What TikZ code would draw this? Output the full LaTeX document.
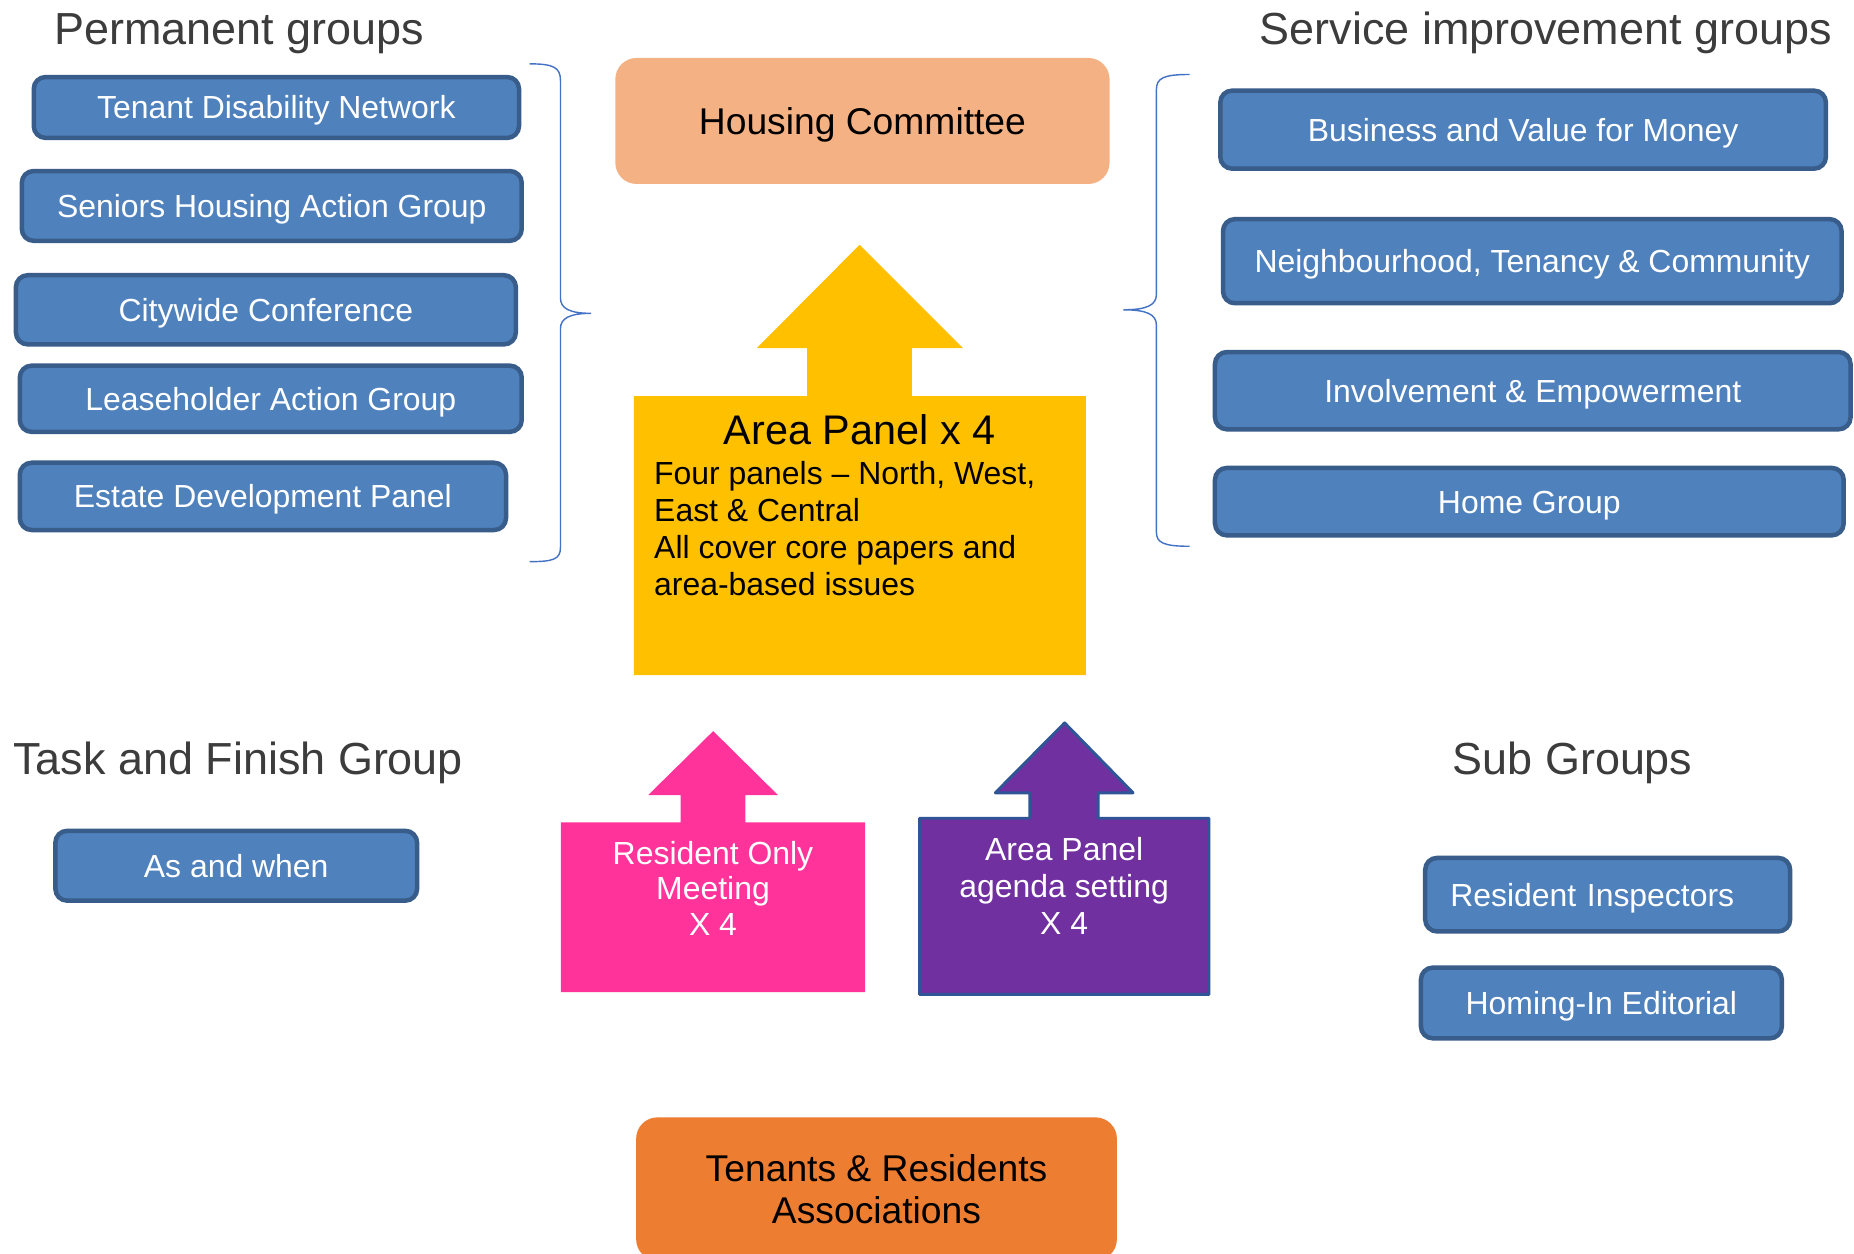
\documentclass[tikz,border=0pt]{standalone}
\usepackage{fontspec}
\setmainfont{Liberation Sans}
\definecolor{boxblue}{HTML}{4F81BD}
\definecolor{boxedge}{HTML}{385D8A}
\definecolor{bracecol}{HTML}{4472C4}
\definecolor{hcfill}{HTML}{F4B183}
\definecolor{trafill}{HTML}{ED7D31}
\definecolor{apfill}{HTML}{FFC000}
\definecolor{pinkfill}{HTML}{FF3399}
\definecolor{purplefill}{HTML}{7030A0}
\definecolor{purpleedge}{HTML}{2F5597}
\definecolor{titlegray}{HTML}{3C3C3C}
\tikzset{
  bluebox/.style={draw=boxedge, fill=boxblue, line width=1.9pt, rounded corners=5pt,
    inner sep=0pt, text=white, font=\fontsize{13.5pt}{16pt}\selectfont,
    text height=9.67pt, text depth=0pt},
  grouptitle/.style={anchor=base, inner sep=0pt, text=titlegray,
    font=\fontsize{19pt}{22pt}\selectfont},
  bigbox/.style={inner sep=0pt, rounded corners=9pt, text=black,
    font=\fontsize{15.75pt}{17.6pt}\selectfont},
  bracket/.style={draw=bracecol, line width=0.6pt},
  shapetext/.style={inner sep=0pt, text=white, align=center},
}
\begin{document}
\begin{tikzpicture}[x=0.5pt,y=-0.5pt]
\clip (0,0) rectangle (1568,1060);
\fill[white] (0,0) rectangle (1568,1060);

% titles
\node[grouptitle] (tperm) at (202.3,37.8) {Permanent groups};
\node[grouptitle] (tserv) at (1307.3,37.8) {Service improvement groups};
\node[grouptitle] (ttask) at (201.5,654.6) {Task and Finish Group};
\node[grouptitle] (tsub) at (1330,654.6) {Sub Groups};

% permanent groups
\node[bluebox, minimum width=205.2pt, minimum height=25.75pt] (tdn) at (233.75,90.9) {Tenant Disability Network};
\node[bluebox, minimum width=211.4pt, minimum height=29.5pt] (shag) at (229.85,174.15) {Seniors Housing Action Group};
\node[bluebox, minimum width=211.4pt, minimum height=29.25pt] (cwc) at (224.85,262) {Citywide Conference};
\node[bluebox, minimum width=212.25pt, minimum height=28pt] (lag) at (229,337.25) {Leaseholder Action Group};
\node[bluebox, minimum width=205.6pt, minimum height=28.45pt] (edp) at (222.35,419.8) {Estate Development Panel};

% service improvement groups
\node[bluebox, minimum width=256.1pt, minimum height=33pt] (bvm) at (1288.15,109.65) {Business and Value for Money};
\node[bluebox, minimum width=261.55pt, minimum height=35.55pt] (ntc) at (1295.9,220.9) {Neighbourhood, Tenancy \& Community};
\node[bluebox, minimum width=268.75pt, minimum height=32.65pt] (ie) at (1296.3,330.4) {Involvement \& Empowerment};
\node[bluebox, minimum width=265.85pt, minimum height=28.5pt] (hg) at (1293.4,424.25) {Home Group};

% task and finish
\node[bluebox, minimum width=152.95pt, minimum height=29.55pt] (aw) at (199.8,732.2) {As and when};

% sub groups
\node[bluebox, minimum width=154.3pt, minimum height=31.1pt, text width=133.1pt, align=left] (ri) at (1359.65,756.65) {Resident Inspectors};
\node[bluebox, minimum width=152.6pt, minimum height=29.9pt] (hie) at (1354.35,848.25) {Homing-In Editorial};

% braces
\draw[bracket] (448,54) .. controls (468,54) and (474,57) .. (474,68) -- (474,252)
  .. controls (474,261) and (482,265) .. (500,265)
  .. controls (482,265) and (474,269) .. (474,278) -- (474,463)
  .. controls (474,473) and (468,475) .. (448,475);
\draw[bracket] (1006,63) .. controls (984,63) and (978,66) .. (978,76) -- (978,249)
  .. controls (978,258) and (970,262) .. (950,262)
  .. controls (970,262) and (978,266) .. (978,275) -- (978,450)
  .. controls (978,459) and (984,462) .. (1006,462);

% housing committee
\node[bigbox, fill=hcfill, minimum width=209pt, minimum height=53.3pt,
  text height=11.28pt, text depth=0pt] (hc) at (729.4,102.3) {Housing Committee};

% area panel arrow
\fill[apfill] (536,571) -- (536,335) -- (682.6,335) -- (682.6,294.5) -- (640,294.5)
  -- (727,207) -- (814.5,294.5) -- (771.3,294.5) -- (771.3,335) -- (918.4,335)
  -- (918.4,571) -- cycle;
\node[anchor=base, inner sep=0pt, font=\fontsize{17.5pt}{20pt}\selectfont] (aptitle) at (727,375.7) {Area Panel x 4};
\node[anchor=west, inner sep=0pt, align=left, font=\fontsize{13.5pt}{15.6pt}\selectfont] (apbody) at (552.9,446.85)
  {Four panels -- North, West,\\East \& Central\\All cover core papers and\\area-based issues};

% resident only meeting arrow
\fill[pinkfill] (474.4,839) -- (474.4,695.5) -- (575.6,695.5) -- (575.6,672.5) -- (548.1,672.5)
  -- (603.2,618.3) -- (658,672.5) -- (630.4,672.5) -- (630.4,695.5) -- (731.6,695.5)
  -- (731.6,839) -- cycle;
\node[shapetext, font=\fontsize{13.5pt}{15.15pt}\selectfont] (rom) at (603,751.3) {Resident Only\\Meeting\\X 4};

% area panel agenda setting arrow
\filldraw[fill=purplefill, draw=purpleedge, line width=1.25pt, line join=round]
  (777.7,841) -- (777.7,692) -- (870.9,692) -- (870.9,670.5) -- (841.8,670.5)
  -- (900.4,611.4) -- (958.2,670.5) -- (928.7,670.5) -- (928.7,692) -- (1022.4,692)
  -- (1022.4,841) -- cycle;
\node[shapetext, font=\fontsize{13.5pt}{15.7pt}\selectfont] (apas) at (900,749.4) {Area Panel\\agenda setting\\X 4};

% tenants and residents associations
\node[bigbox, fill=trafill, minimum width=203.3pt, minimum height=60.5pt, align=center] (tra) at (741.3,1005.5)
  {Tenants \& Residents\\Associations};
\end{tikzpicture}
\end{document}
